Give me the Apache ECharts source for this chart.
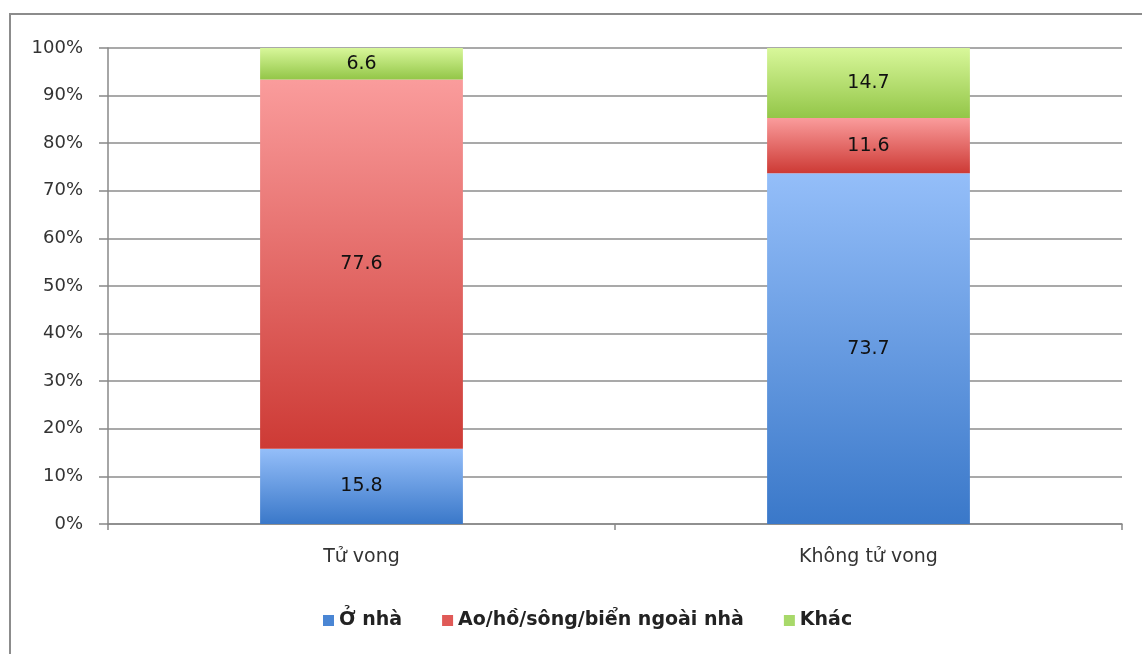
<!DOCTYPE html>
<html><head><meta charset="utf-8">
<script src="https://cdn.jsdelivr.net/npm/echarts@6/dist/echarts.min.js"></script>
<style>html,body{margin:0;padding:0;background:#fff}#c{width:1142px;height:654px}</style>
</head><body><div id="c"></div>
<script>
const categories = ['Tử vong', 'Không tử vong'];
const seriesNames = ['Ở nhà', 'Ao/hồ/sông/biển ngoài nhà', 'Khác'];
const atHome = [15.8, 73.7];
const outside = [77.6, 11.6];
const other = [6.6, 14.7];

const grads = [
  ['#94bef9', '#3a78c9'],
  ['#fa9c9c', '#cd3a35'],
  ['#d8f79a', '#93c648']
];
const legendColors = ['#4a86d4', '#e05a57', '#a8d96a'];
function grad(i){
  return new echarts.graphic.LinearGradient(0,0,0,1,[{offset:0,color:grads[i][0]},{offset:1,color:grads[i][1]}]);
}
const font = '"DejaVu Sans", "Noto Sans", sans-serif';
const chart = echarts.init(document.getElementById('c'));
const dataSets = [atHome, outside, other];
chart.setOption({
  animation:false,
  graphic:[{type:'rect',shape:{x:10,y:14,width:1140,height:660},style:{fill:'none',stroke:'#8c8c8c',lineWidth:2},silent:true}],
  grid:{left:108,right:20,top:48,bottom:130},
  legend:{
    top:606,left:318,itemWidth:11,itemHeight:11,itemGap:40,
    icon:'rect',
    textStyle:{fontFamily:font,fontSize:19,fontWeight:'bold',color:'#222',padding:[0,0,0,0]},
    data:seriesNames.map((n,i)=>({name:n,itemStyle:{color:legendColors[i]}}))
  },
  xAxis:{
    type:'category',data:categories,boundaryGap:true,
    axisLine:{lineStyle:{color:'#888',width:1.5}},
    axisTick:{show:true,length:6,alignWithLabel:false,lineStyle:{color:'#888',width:1.5}},
    axisLabel:{fontFamily:font,fontSize:19,color:'#333',margin:24}
  },
  yAxis:{
    type:'value',min:0,max:100,interval:10,
    axisLine:{show:true,lineStyle:{color:'#888',width:1.5}},
    axisTick:{show:true,length:9,lineStyle:{color:'#888',width:1.5}},
    splitLine:{lineStyle:{color:'#8c8c8c',width:1.5}},
    axisLabel:{fontFamily:font,fontSize:18,color:'#333',margin:25,formatter:v=>v+'%'}
  },
  series:dataSets.map((d,i)=>({
    name:seriesNames[i],type:'bar',stack:'a',barWidth:'40%',
    data:d,
    itemStyle:{color:grad(i)},
    label:{show:true,position:'inside',fontFamily:font,fontSize:19,color:'#111',formatter:p=>p.value.toFixed(1)}
  }))
});
</script></body></html>
